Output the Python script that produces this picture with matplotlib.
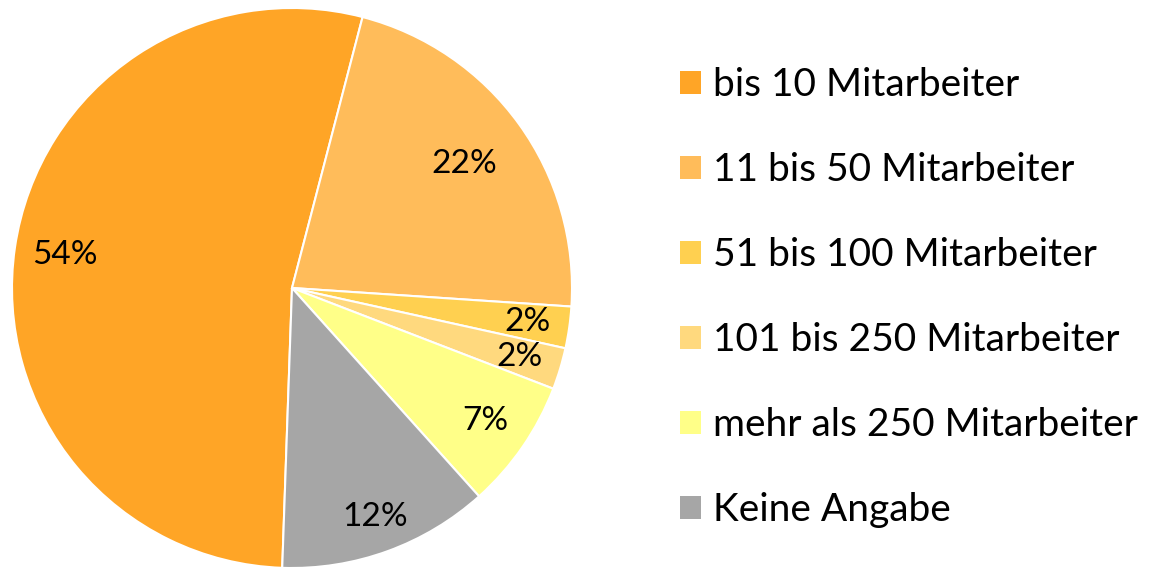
import numpy as np
import matplotlib.pyplot as plt
from matplotlib.patches import Patch

plt.rcParams['font.family'] = ['Lato', 'DejaVu Sans']

# data
categories = ["bis 10 Mitarbeiter", "11 bis 50 Mitarbeiter", "51 bis 100 Mitarbeiter",
              "101 bis 250 Mitarbeiter", "mehr als 250 Mitarbeiter", "Keine Angabe"]
shares = [53.5, 22.0, 2.4, 2.4, 7.5, 12.2]
pct_labels = ["54%", "22%", "2%", "2%", "7%", "12%"]

colors = ["#FFA526", "#FFBC5A", "#FFD050", "#FFD97E", "#FFFF88", "#A6A6A6"]
label_dist = [0.82, 0.76, 0.85, 0.85, 0.84, 0.87]

fig = plt.figure(figsize=(11.5, 5.67), dpi=100)
ax = fig.add_axes([12/1150, -1/567, 560/1150, 560/567])

wedges, _ = ax.pie(shares, colors=colors, startangle=-92, counterclock=False,
                   radius=1.0, wedgeprops=dict(edgecolor="white", linewidth=1.5))
ax.set_xlim(-1, 1)
ax.set_ylim(-1, 1)
ax.set_aspect("equal")

# percentage labels at the middle of each wedge
for w, lab, d in zip(wedges, pct_labels, label_dist):
    ang = np.deg2rad((w.theta1 + w.theta2) / 2)
    ax.text(d*np.cos(ang), d*np.sin(ang), lab, ha="center", va="center",
            fontsize=24, color="black")

handles = [Patch(facecolor=c, edgecolor="none") for c in colors]
fig.legend(handles, categories, loc="center left", bbox_to_anchor=(680/1150, 0.4753),
           frameon=False, fontsize=28, handlelength=0.54, handleheight=0.54,
           handletextpad=0.31, labelspacing=1.26, borderpad=0, borderaxespad=0)

plt.savefig("out.png", dpi=100, facecolor="white")
plt.close(fig)
